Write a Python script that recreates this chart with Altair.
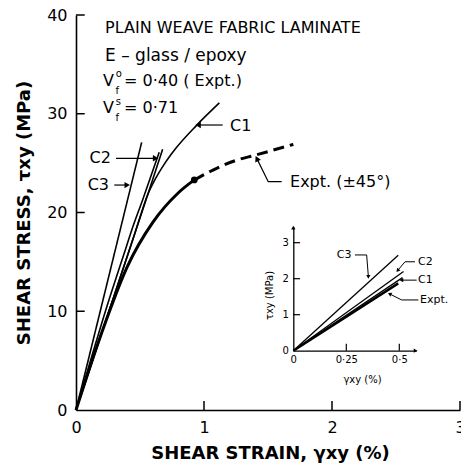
import altair as alt
import pandas as pd

FONT = "DejaVu Sans"

# ---------------------------------------------------------------
# Main panel: shear strain (%) against shear stress (MPa)
# ---------------------------------------------------------------
c3_strain = [0.0, 0.513]
c3_stress = [0.0, 27.1]
c2a_strain = [0.0, 0.266, 0.385, 0.435, 0.521, 0.65]
c2a_stress = [0.0, 11.5, 16.2, 18.2, 21.3, 26.1]
c2b_strain = [0.0, 0.296, 0.417, 0.468, 0.56, 0.677]
c2b_stress = [0.0, 11.5, 16.2, 18.2, 21.8, 26.4]
c1_strain = [0.0, 0.296, 0.46, 0.56, 0.62, 0.69, 0.78, 0.94, 1.12]
c1_stress = [0.0, 11.5, 17.9, 21.8, 23.4, 24.9, 26.5, 28.8, 31.1]
expt_strain = [0.0, 0.2, 0.4, 0.6, 0.8, 0.924]
expt_stress = [0.0, 7.8, 14.5, 19.0, 22.0, 23.3]
expt_ext_strain = [0.924, 1.07, 1.255, 1.398, 1.698]
expt_ext_stress = [23.3, 24.3, 25.3, 25.8, 26.9]
expt_mark_strain = [0.924]
expt_mark_stress = [23.3]

x_tick_values = [0, 1, 2, 3]
y_tick_values = [0, 10, 20, 30, 40]

# ---------------------------------------------------------------
# Inset: initial part of the curves
# ---------------------------------------------------------------
in_c3_strain = [0.0, 0.495]
in_c3_stress = [0.0, 2.65]
in_c2_strain = [0.0, 0.52]
in_c2_stress = [0.0, 2.2]
in_c1_strain = [0.0, 0.515]
in_c1_stress = [0.0, 2.03]
in_expt_strain = [0.0, 0.495]
in_expt_stress = [0.0, 1.87]

in_x_tick_values = [0, 0.25, 0.5]
in_y_tick_values = [0, 1, 2, 3]

# ---------------------------------------------------------------
# Annotations (positions in the data units of each panel)
# ---------------------------------------------------------------
main_notes_left = pd.DataFrame({
    "text": ["PLAIN WEAVE FABRIC LAMINATE", "E – glass / epoxy", "V", "= 0·40 ( Expt.)",
             "V", "= 0·71", "C1", "Expt. (±45°)"],
    "x": [0.227, 0.227, 0.211, 0.375, 0.211, 0.375, 1.203, 1.672],
    "y": [38.73, 35.8, 33.34, 33.34, 30.63, 30.63, 28.76, 23.09],
    "fs": [16, 17, 16, 16, 16, 16, 16, 16],
})
main_notes_small = pd.DataFrame({
    "text": ["o", "f", "s", "f"],
    "x": [0.334, 0.322, 0.330, 0.322],
    "y": [34.0, 32.35, 31.24, 29.6],
    "fs": [10, 10, 10, 10],
})
main_notes_right = pd.DataFrame({
    "text": ["C2", "C3"],
    "x": [0.273, 0.258],
    "y": [25.49, 22.78],
    "fs": [16, 16],
})
main_leaders = pd.DataFrame({
    "id": ["C1", "C1", "C2", "C2", "C3", "C3", "E", "E", "E"],
    "order": [0, 1, 0, 1, 0, 1, 0, 1, 2],
    "x": [1.146, 0.96, 0.3125, 0.615, 0.299, 0.393, 1.607, 1.502, 1.416],
    "y": [28.86, 28.86, 25.49, 25.49, 22.78, 22.78, 23.12, 23.12, 25.38],
})
main_heads = pd.DataFrame({
    "x": [0.961, 0.615, 0.393, 1.416],
    "y": [28.86, 25.49, 22.78, 25.38],
    "angle": [270, 90, 90, 334],
})

inset_notes = pd.DataFrame({
    "text": ["C3", "C2", "C1", "Expt."],
    "ix": [0.205, 0.588, 0.588, 0.598],
    "iy": [2.66, 2.47, 1.96, 1.41],
})
inset_leaders = pd.DataFrame({
    "id": ["C3", "C3", "C3", "C2", "C2", "C2", "C1", "C1", "E", "E", "E"],
    "order": [0, 1, 2, 0, 1, 2, 0, 1, 0, 1, 2],
    "ix": [0.291, 0.346, 0.354, 0.574, 0.527, 0.494, 0.582, 0.513, 0.59, 0.511, 0.457],
    "iy": [2.66, 2.66, 2.07, 2.47, 2.47, 2.24, 1.96, 1.96, 1.41, 1.41, 1.57],
})
inset_heads = pd.DataFrame({
    "ix": [0.354, 0.494, 0.513, 0.457, 0.574, 0.0],
    "iy": [2.07, 2.24, 1.96, 1.57, 0.0, 3.40],
    "angle": [180, 220, 270, 297, 90, 0],
})


def frame(name, xs, ys, xk="x", yk="y"):
    return pd.DataFrame({"curve": name, "order": list(range(len(xs))), xk: xs, yk: ys})


thin_curves = pd.concat([
    frame("C3", c3_strain, c3_stress),
    frame("C2a", c2a_strain, c2a_stress),
    frame("C2b", c2b_strain, c2b_stress),
    frame("C1", c1_strain, c1_stress),
])
expt_solid = frame("Expt", expt_strain, expt_stress)
expt_ext = frame("Expt ext", expt_ext_strain, expt_ext_stress)
expt_mark = frame("Expt mark", expt_mark_strain, expt_mark_stress)

y_ticks = pd.DataFrame({"x": 0.0, "x2": 0.068, "y": y_tick_values[1:]})
x_ticks = pd.DataFrame({"x": x_tick_values[1:], "y": 0.0, "y2": 0.9})

inset_thin = pd.concat([
    frame("C3", in_c3_strain, in_c3_stress, "ix", "iy"),
    frame("C2", in_c2_strain, in_c2_stress, "ix", "iy"),
    frame("C1", in_c1_strain, in_c1_stress, "ix", "iy"),
])
inset_expt = frame("Expt", in_expt_strain, in_expt_stress, "ix", "iy")
in_y_ticks = pd.DataFrame({"ix": 0.0, "ix2": 0.032, "iy": in_y_tick_values[1:]})
in_x_ticks = pd.DataFrame({"ix": in_x_tick_values[1:], "iy": 0.0, "iy2": 0.19})

# ---------------------------------------------------------------
# Encodings
# ---------------------------------------------------------------
axis_common = dict(
    ticks=False, tickSize=0, grid=False, domainColor="black",
    labelFont=FONT, labelColor="black", labelFlush=False, labelOverlap=False,
    titleFont=FONT, titleColor="black",
)

X_MAIN = alt.X(
    "x:Q",
    scale=alt.Scale(domain=[0, 3], nice=False, zero=False),
    axis=alt.Axis(
        title="SHEAR STRAIN, γxy (%)", values=x_tick_values, format="d",
        domainWidth=1.6, labelFontSize=16, labelPadding=9,
        titleFontSize=18, titleFontWeight="bold",
        titleX=194, titleY=48, titleBaseline="alphabetic", titleAlign="center",
        **axis_common,
    ),
)
Y_MAIN = alt.Y(
    "y:Q",
    scale=alt.Scale(domain=[0, 40], nice=False, zero=False),
    axis=alt.Axis(
        title="SHEAR STRESS, τxy (MPa)", values=y_tick_values, format="d",
        domainWidth=1.6, labelFontSize=16, labelPadding=9,
        titleFontSize=18, titleFontWeight="bold", titleAngle=270,
        titleX=-52, titleY=197.5, titleBaseline="middle", titleAlign="center",
        **axis_common,
    ),
)

IX = alt.X(
    "ix:Q",
    scale=alt.Scale(domain=[0, 0.58], range=[217.3, 217.3 + 0.58 * 212], nice=False, zero=False),
    axis=alt.Axis(
        orient="bottom", offset=-59.3, title="γxy (%)", values=in_x_tick_values,
        labelExpr="datum.value == 0 ? '0' : replace(format(datum.value, '.2~f'), '.', '·')",
        domainWidth=1.3, labelFontSize=10, labelPadding=4,
        titleFontSize=10, titleFontWeight="normal",
        titleX=286, titleY=29, titleBaseline="middle", titleAlign="center",
        **axis_common,
    ),
)
IY = alt.Y(
    "iy:Q",
    scale=alt.Scale(domain=[0, 3.45], range=[335.7, 335.7 - 3.45 * 36], nice=False, zero=False),
    axis=alt.Axis(
        orient="left", offset=-217.3, title="τxy (MPa)", values=in_y_tick_values, format="d",
        domainWidth=1.3, labelFontSize=10, labelPadding=5,
        titleFontSize=10, titleFontWeight="normal", titleAngle=270,
        titleX=-24, titleY=280, titleBaseline="middle", titleAlign="center",
        **axis_common,
    ),
)

# ---------------------------------------------------------------
# Main panel layers
# ---------------------------------------------------------------
thin_layer = alt.Chart(thin_curves).mark_line(
    color="black", strokeWidth=1.6, interpolate="monotone"
).encode(x=X_MAIN, y=Y_MAIN, detail="curve:N", order="order:Q")

expt_layer = alt.Chart(expt_solid).mark_line(
    color="black", strokeWidth=3, interpolate="monotone"
).encode(x=X_MAIN, y=Y_MAIN, order="order:Q")

expt_ext_layer = alt.Chart(expt_ext).mark_line(
    color="black", strokeWidth=3, strokeDash=[11, 6], interpolate="monotone"
).encode(x=X_MAIN, y=Y_MAIN, order="order:Q")

expt_mark_layer = alt.Chart(expt_mark).mark_point(
    filled=True, color="black", opacity=1, size=45
).encode(x=X_MAIN, y=Y_MAIN)

y_tick_layer = alt.Chart(y_ticks).mark_rule(color="black", strokeWidth=1.5).encode(
    x=X_MAIN, x2="x2:Q", y=Y_MAIN
)
x_tick_layer = alt.Chart(x_ticks).mark_rule(color="black", strokeWidth=1.5).encode(
    x=X_MAIN, y=Y_MAIN, y2="y2:Q"
)

leader_layer = alt.Chart(main_leaders).mark_line(color="black", strokeWidth=1.2).encode(
    x=X_MAIN, y=Y_MAIN, detail="id:N", order="order:Q"
)
head_layer = alt.Chart(main_heads).mark_point(
    shape="triangle", filled=True, color="black", opacity=1, size=40
).encode(x=X_MAIN, y=Y_MAIN, angle=alt.Angle("angle:Q", scale=None))


def text_layer(df, align, xe, ye):
    return alt.Chart(df).mark_text(
        font=FONT, align=align, baseline="middle", color="black"
    ).encode(x=xe, y=ye, text="text:N", size=alt.Size("fs:Q", scale=None, legend=None))


notes_left_layer = text_layer(main_notes_left, "left", X_MAIN, Y_MAIN)
notes_small_layer = text_layer(main_notes_small, "center", X_MAIN, Y_MAIN)
notes_right_layer = text_layer(main_notes_right, "right", X_MAIN, Y_MAIN)

main = alt.layer(
    thin_layer, expt_layer, expt_ext_layer, expt_mark_layer,
    y_tick_layer, x_tick_layer, leader_layer, head_layer,
    notes_left_layer, notes_small_layer, notes_right_layer,
)

# ---------------------------------------------------------------
# Inset layers
# ---------------------------------------------------------------
in_thin_layer = alt.Chart(inset_thin).mark_line(color="black", strokeWidth=1.3).encode(
    x=IX, y=IY, detail="curve:N", order="order:Q"
)
in_expt_layer = alt.Chart(inset_expt).mark_line(color="black", strokeWidth=2.4).encode(
    x=IX, y=IY, order="order:Q"
)
in_y_tick_layer = alt.Chart(in_y_ticks).mark_rule(color="black", strokeWidth=1.2).encode(
    x=IX, x2="ix2:Q", y=IY
)
in_x_tick_layer = alt.Chart(in_x_ticks).mark_rule(color="black", strokeWidth=1.2).encode(
    x=IX, y=IY, y2="iy2:Q"
)
in_leader_layer = alt.Chart(inset_leaders).mark_line(color="black", strokeWidth=1.0).encode(
    x=IX, y=IY, detail="id:N", order="order:Q"
)
in_head_layer = alt.Chart(inset_heads).mark_point(
    shape="triangle", filled=True, color="black", opacity=1, size=18
).encode(x=IX, y=IY, angle=alt.Angle("angle:Q", scale=None))
in_text_layer = alt.Chart(inset_notes).mark_text(
    font=FONT, align="left", baseline="middle", color="black", fontSize=11
).encode(x=IX, y=IY, text="text:N")

inset = alt.layer(
    in_thin_layer, in_expt_layer, in_y_tick_layer, in_x_tick_layer,
    in_leader_layer, in_head_layer, in_text_layer,
)

chart = alt.layer(main, inset).resolve_scale(
    x="independent", y="independent"
).properties(
    width=384,
    height=395,
    padding={"left": 76, "top": 15, "right": 1, "bottom": 54},
    autosize=alt.AutoSizeParams(type="none"),
    background="white",
).configure_view(stroke=None)

chart.save("out.html", embed_options={"renderer": "svg", "actions": False})
